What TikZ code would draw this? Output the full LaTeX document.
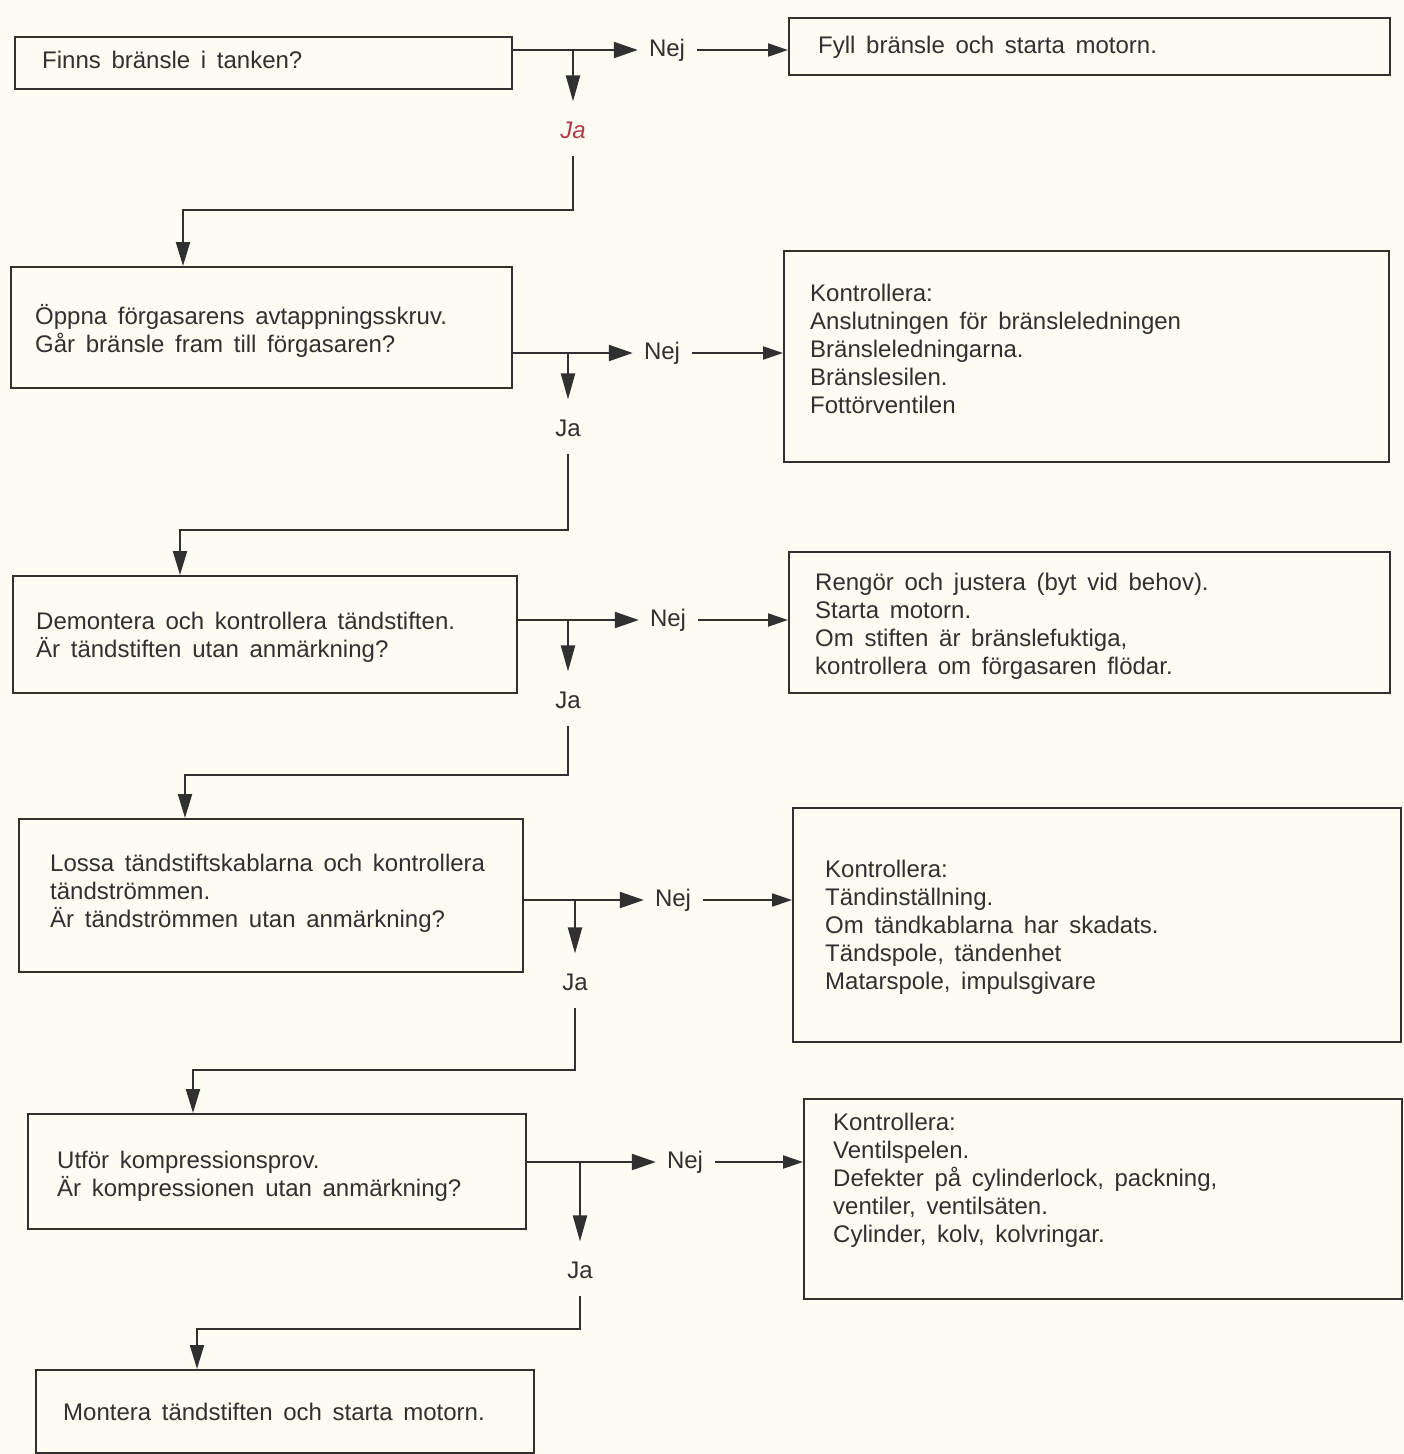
\documentclass[tikz,border=0pt]{standalone}
\usepackage{fontspec}
\setmainfont{Liberation Sans}[WordSpace={1.6}]
\usetikzlibrary{arrows.meta}
\definecolor{ink}{RGB}{48,48,48}
\definecolor{paper}{RGB}{253,251,242}
\definecolor{jared}{RGB}{175,60,72}
\begin{document}
\begin{tikzpicture}[x=1pt,y=-1pt,
  box/.style={draw=ink, line width=2.2pt, rectangle, anchor=north west, inner sep=0pt},
  txt/.style={anchor=west, align=left, text=ink, font=\fontsize{24}{28}\selectfont, inner sep=0pt},
  lbl/.style={text=ink, font=\fontsize{24}{28}\selectfont, inner sep=4pt},
  wire/.style={draw=ink, line width=2.2pt},
  nejarr/.style={wire, -{Triangle[length=24pt,width=16pt]}},
  jaarr/.style={wire, -{Triangle[length=26pt,width=14pt]}},
  inarr/.style={wire, -{Triangle[length=20pt,width=13pt]}},
  downarr/.style={wire, -{Triangle[length=24pt,width=14pt]}}]

\fill[paper] (0,0) rectangle (1404,1454);
\useasboundingbox (0,0) rectangle (1404,1454);

% boxes
\node[box, minimum width=497pt, minimum height=52pt]  (b1)  at (14,36) {};
\node[box, minimum width=601pt, minimum height=57pt]  (b2)  at (788,17) {};
\node[box, minimum width=501pt, minimum height=121pt] (b3)  at (10,266) {};
\node[box, minimum width=605pt, minimum height=211pt] (b4)  at (783,250) {};
\node[box, minimum width=504pt, minimum height=117pt] (b5)  at (12,575) {};
\node[box, minimum width=601pt, minimum height=141pt] (b6)  at (788,551) {};
\node[box, minimum width=504pt, minimum height=153pt] (b7)  at (18,818) {};
\node[box, minimum width=608pt, minimum height=234pt] (b8)  at (792,807) {};
\node[box, minimum width=498pt, minimum height=115pt] (b9)  at (27,1113) {};
\node[box, minimum width=598pt, minimum height=200pt] (b10) at (803,1098) {};
\node[box, minimum width=498pt, minimum height=83pt]  (b11) at (35,1369) {};

% texts
\node[txt] (t1) at (42,60) {Finns bränsle i tanken?};
\node[txt] (t2) at (818,47) {Fyll bränsle och starta motorn.};
\node[txt] (t3) at (35,331) {Öppna förgasarens avtappningsskruv.\\Går bränsle fram till förgasaren?};
\node[txt] (t4) at (810,349) {Kontrollera:\\Anslutningen för bränsleledningen\\Bränsleledningarna.\\Bränslesilen.\\Fottörventilen};
\node[txt] (t5) at (36,637) {Demontera och kontrollera tändstiften.\\Är tändstiften utan anmärkning?};
\node[txt] (t6) at (815,626) {Rengör och justera (byt vid behov).\\Starta motorn.\\Om stiften är bränslefuktiga,\\kontrollera om förgasaren flödar.};
\node[txt] (t7) at (50,893) {Lossa tändstiftskablarna och kontrollera\\tändströmmen.\\Är tändströmmen utan anmärkning?};
\node[txt] (t8) at (825,927) {Kontrollera:\\Tändinställning.\\Om tändkablarna har skadats.\\Tändspole, tändenhet\\Matarspole, impulsgivare};
\node[txt] (t9) at (57,1176) {Utför kompressionsprov.\\Är kompressionen utan anmärkning?};
\node[txt] (t10) at (833,1180) {Kontrollera:\\Ventilspelen.\\Defekter på cylinderlock, packning,\\ventiler, ventilsäten.\\Cylinder, kolv, kolvringar.};
\node[txt] (t11) at (63,1412) {Montera tändstiften och starta motorn.};

% Nej labels
\node[lbl] (n1) at (667,50) {Nej};
\node[lbl] (n2) at (662,353) {Nej};
\node[lbl] (n3) at (668,620) {Nej};
\node[lbl] (n4) at (673,900) {Nej};
\node[lbl] (n5) at (685,1162) {Nej};

% Ja labels
\node[lbl, text=jared, font=\fontsize{24}{28}\selectfont\itshape] (ja1) at (573,130) {Ja};
\node[lbl] (ja2) at (568,428) {Ja};
\node[lbl] (ja3) at (568,700) {Ja};
\node[lbl] (ja4) at (575,982) {Ja};
\node[lbl] (ja5) at (580,1270) {Ja};

% junctions and corners
\coordinate (j1) at (ja1 |- n1);
\coordinate (j2) at (ja2 |- n2);
\coordinate (j3) at (ja3 |- n3);
\coordinate (j4) at (ja4 |- n4);
\coordinate (j5) at (ja5 |- n5);
\coordinate (k1) at (183,210);
\coordinate (k2) at (180,530);
\coordinate (k3) at (185,775);
\coordinate (k4) at (193,1070);
\coordinate (k5) at (197,1329);

% Nej branches
\draw[nejarr, shorten >=7pt] (b1.east |- n1) -- (n1.west);
\draw[inarr, shorten <=8pt] (n1.east) -- (b2.west |- n1);
\draw[nejarr, shorten >=7pt] (b3.east |- n2) -- (n2.west);
\draw[inarr, shorten <=8pt] (n2.east) -- (b4.west |- n2);
\draw[nejarr, shorten >=7pt] (b5.east |- n3) -- (n3.west);
\draw[inarr, shorten <=8pt] (n3.east) -- (b6.west |- n3);
\draw[nejarr, shorten >=7pt] (b7.east |- n4) -- (n4.west);
\draw[inarr, shorten <=8pt] (n4.east) -- (b8.west |- n4);
\draw[nejarr, shorten >=7pt] (b9.east |- n5) -- (n5.west);
\draw[inarr, shorten <=8pt] (n5.east) -- (b10.west |- n5);

% Ja branches
\draw[jaarr, shorten >=16pt] (j1) -- (ja1.north);
\draw[downarr, shorten <=13pt] (ja1.south) |- (k1) -- (k1 |- b3.north);
\draw[jaarr, shorten >=16pt] (j2) -- (ja2.north);
\draw[downarr, shorten <=13pt] (ja2.south) |- (k2) -- (k2 |- b5.north);
\draw[jaarr, shorten >=16pt] (j3) -- (ja3.north);
\draw[downarr, shorten <=13pt] (ja3.south) |- (k3) -- (k3 |- b7.north);
\draw[jaarr, shorten >=16pt] (j4) -- (ja4.north);
\draw[downarr, shorten <=13pt] (ja4.south) |- (k4) -- (k4 |- b9.north);
\draw[jaarr, shorten >=16pt] (j5) -- (ja5.north);
\draw[downarr, shorten <=13pt] (ja5.south) |- (k5) -- (k5 |- b11.north);
\end{tikzpicture}
\end{document}
